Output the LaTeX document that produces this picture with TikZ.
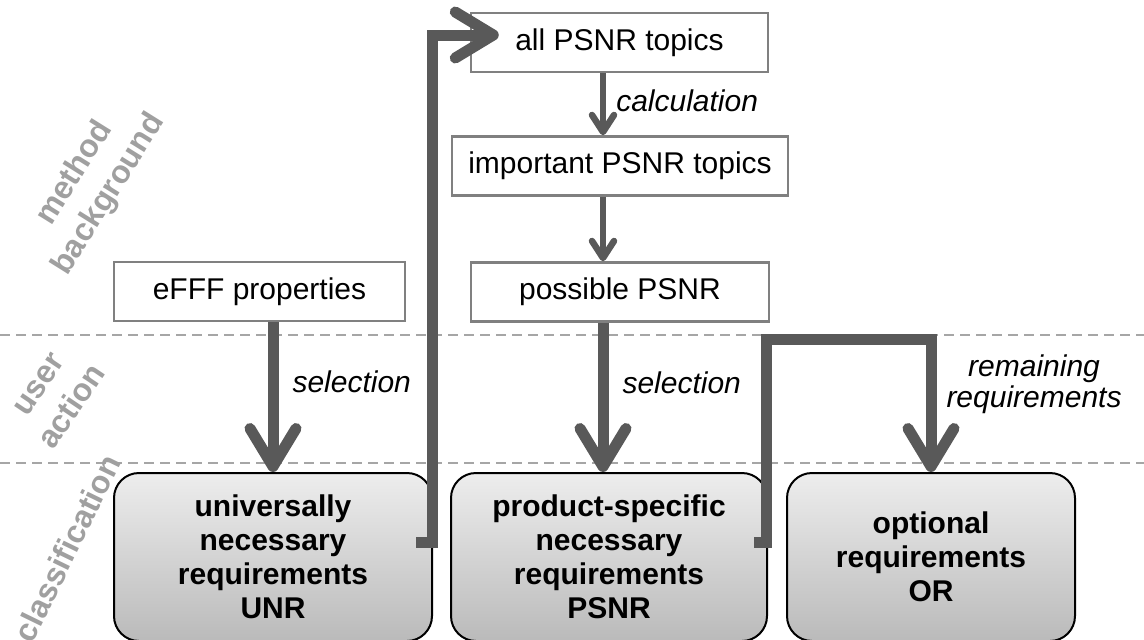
\documentclass[tikz,border=0pt]{standalone}
\usepackage{fontspec}
\setmainfont{Liberation Sans}
\usetikzlibrary{arrows.meta}
\definecolor{arrowgray}{HTML}{595959}
\definecolor{boxgray}{HTML}{808080}
\definecolor{linegray}{HTML}{A6A6A6}
\definecolor{phasegray}{HTML}{A0A0A0}

\begin{document}
\begin{tikzpicture}[
      x=1pt, y=-1pt,
      topic/.style={draw=boxgray,line width=2.5pt,fill=white,inner sep=0pt,minimum height=59pt,font=\fontsize{30}{34}\selectfont},
      class/.style={draw=black,line width=2pt,rounded corners=25pt,top color=black!7,bottom color=black!27,minimum height=168pt,inner sep=0pt,align=center,font=\fontsize{30}{34}\selectfont\bfseries},
      flow/.style={draw=arrowgray,line width=11pt,-{Straight Barb[length=38pt,width=46pt,round]}},
      trans/.style={draw=arrowgray,line width=6.5pt,-{Straight Barb[length=17pt,width=22pt,round]}},
      lab/.style={inner sep=0pt,align=center,font=\fontsize{30}{31}\selectfont\itshape},
      phase/.style={text=phasegray,inner sep=0pt,align=center,font=\fontsize{32}{40}\selectfont\bfseries},
      border/.style={draw=linegray,line width=2pt,dash pattern=on 10pt off 6pt}
    ]
    \useasboundingbox (0,0) rectangle (1144,640);
    % Draw the phase borders.
    \draw[border] (0,335) -- (1144,335);
    \draw[border] (0,463) -- (1144,463);
    % Draw the phase names.
    \node[phase, rotate=58] (method) at (92,184) {method\\background};
    \node[phase, rotate=56] (user) at (56,396) {user\\action};
    \node[phase, rotate=64] (classification) at (67,548) {classification};
    % Draw the topic boxes.
    \node[topic, minimum width=297pt] (all) at (619.5,42.5) {all PSNR topics};
    \node[topic, minimum width=336pt] (important) at (620,166) {important PSNR topics};
    \node[topic, minimum width=298pt] (possible) at (620,292) {possible PSNR};
    \node[topic, minimum width=291pt] (eFFF) at (259.5,291.5) {eFFF properties};
    % Draw the classes.
    \node[class, minimum width=318pt] (UNR) at (273,557) {universally\\necessary\\requirements\\UNR};
    \node[class, minimum width=316pt] (PSNR) at (609,557) {product-specific\\necessary\\requirements\\PSNR};
    \node[class, minimum width=288pt] (OR) at (931,557) {optional\\requirements\\OR};
    \coordinate (axis) at (603,0);
    % Draw the transitions.
    \draw[trans] (all.south -| axis) -- node[lab, right=10pt, pos=0.44] {calculation} (important.north -| axis);
    \draw[trans] (important.south -| axis) -- (possible.north -| axis);
    \draw[flow] (eFFF.south -| UNR.north) -- node[lab, right=14pt, pos=0.4] {selection} (UNR.north);
    \draw[flow] (possible.south -| axis) -- node[lab, right=14pt, pos=0.4] {selection} (PSNR.north -| axis);
    \draw[flow] ([shift={(-17,-15)}]UNR.east) -- ++(16,0) |- ([shift={(29,-7.5)}]all.west);
    \draw[flow] ([shift={(-14,-15)}]PSNR.east) -- ++(12,0) |- ([shift={(0,-133)}]OR.north)
      -- node[lab, right=10pt, pos=0.34] {remaining\\requirements} (OR.north);
\end{tikzpicture}
\end{document}
